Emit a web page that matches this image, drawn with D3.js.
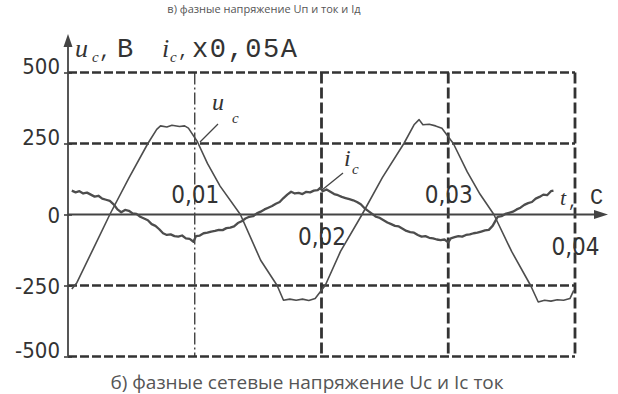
<!DOCTYPE html>
<html>
<head>
    <meta charset="utf-8">
    <title>Phase voltage Uc and current Ic</title>
    <script src="https://d3js.org/d3.v7.min.js"></script>
    <style>
        body { margin: 0; background: #fff; }
        svg { display: block; background: #fff; }
        .grid { stroke: #333; fill: none; }
        .curve { fill: none; stroke: #4d4d4d; stroke-linejoin: round; }
        .tick-label { font-family: 'Liberation Sans Narrow', 'DejaVu Sans Condensed', 'Liberation Sans', sans-serif; font-stretch: condensed; fill: #333; }
        .caption { font-family: 'Open Sans', 'Noto Sans', sans-serif; font-size: 19px; fill: #555; }
        .mono { font-family: 'Liberation Mono', 'DejaVu Sans Mono', monospace; fill: #333; }
        .ital { font-family: 'Liberation Serif', 'DejaVu Serif', serif; font-style: italic; fill: #333; }
    </style>
</head>
<body>
<svg width="618" height="394"></svg>
<script>
// ticks
const yTicks = [500, 250, 0, -250, -500];
const yTickLabels = ["500", "250", "0", "-250", "-500"];
const xTicks = [0.01, 0.02, 0.03, 0.04];
const xTickLabels = ["0,01", "0,02", "0,03", "0,04"];

// phase voltage u_c, V (time s)
const ucTime = [0.0003, 0.0007, 0.0020, 0.0033, 0.0048, 0.0063, 0.0070, 0.0073, 0.0078, 0.0082, 0.0088, 0.0092, 0.0095,
    0.0102, 0.0110, 0.0120, 0.0136, 0.0152, 0.0165, 0.0170, 0.0175, 0.0180, 0.0185, 0.0190, 0.0195,
    0.0203, 0.0215, 0.0232, 0.0248, 0.0265, 0.0273, 0.0277, 0.0280, 0.0285, 0.0290, 0.0295,
    0.0304, 0.0315, 0.0325, 0.0336, 0.0350, 0.0365, 0.0371, 0.0376, 0.0381, 0.0386, 0.0391, 0.0396, 0.0399];
const ucValue = [-262, -240, -120, 0, 128, 250, 300, 312, 308, 314, 310, 312, 304,
    257, 180, 100, 0, -161, -250, -302, -298, -302, -298, -303, -296,
    -249, -130, 0, 130, 250, 316, 334, 316, 318, 312, 304,
    250, 150, 72, 0, -130, -250, -308, -302, -305, -300, -302, -296, -267];

// phase current i_c, x0.05 A
const icTime = [0.0003, 0.0006, 0.0009, 0.0012, 0.0015, 0.0018, 0.0021, 0.0024, 0.0027, 0.0030, 0.0033, 0.0036, 0.0039,
    0.0042, 0.0045, 0.0048, 0.0051, 0.0054, 0.0057, 0.0060, 0.0063, 0.0066, 0.0069, 0.0072, 0.0075, 0.0078,
    0.0081, 0.0084, 0.0087, 0.0090, 0.0093, 0.0096, 0.0099, 0.0101, 0.0104, 0.0107, 0.0110, 0.0113, 0.0116,
    0.0119, 0.0122, 0.0125, 0.0128, 0.0131, 0.0134, 0.0137, 0.0140, 0.0143, 0.0146, 0.0149, 0.0152, 0.0155,
    0.0158, 0.0161, 0.0164, 0.0167, 0.0170, 0.0173, 0.0176, 0.0179, 0.0182, 0.0185, 0.0188, 0.0191, 0.0194,
    0.0197, 0.0199, 0.0201, 0.0204, 0.0207, 0.0210, 0.0213, 0.0216, 0.0219, 0.0222, 0.0225, 0.0228, 0.0231,
    0.0234, 0.0237, 0.0240, 0.0243, 0.0246, 0.0249, 0.0252, 0.0255, 0.0258, 0.0261, 0.0264, 0.0267, 0.0270,
    0.0273, 0.0276, 0.0279, 0.0282, 0.0285, 0.0288, 0.0291, 0.0294, 0.0297, 0.0300, 0.0302, 0.0305, 0.0308,
    0.0311, 0.0314, 0.0317, 0.0320, 0.0323, 0.0326, 0.0329, 0.0332, 0.0335, 0.0337, 0.0339, 0.0342, 0.0345,
    0.0348, 0.0351, 0.0354, 0.0357, 0.0360, 0.0363, 0.0366, 0.0369, 0.0372, 0.0375, 0.0378, 0.0381, 0.0383];
const icValue = [84, 78, 82, 74, 77, 70, 63, 66, 56, 52, 48, 36, 18,
    8, 16, 13, 4, 2, -8, -14, -20, -34, -40, -52, -66, -72,
    -70, -76, -78, -74, -84, -86, -96, -76, -74, -66, -64, -60, -58,
    -54, -55, -48, -46, -42, -30, -24, -14, -8, -6, 4, 10, 18,
    24, 30, 38, 44, 58, 70, 80, 74, 76, 72, 80, 78, 84,
    86, 94, 82, 88, 80, 72, 68, 62, 58, 54, 50, 44, 36,
    22, 12, 2, -8, -12, -20, -28, -34, -40, -42, -50, -58, -62,
    -64, -72, -78, -76, -82, -84, -88, -90, -88, -98, -84, -80, -76,
    -78, -72, -70, -66, -64, -60, -56, -54, -40, -24, -8, -6, 2,
    6, 10, 18, 24, 34, 40, 44, 56, 62, 70, 68, 82, 84];

const svg = d3.select("svg");

const x = d3.scaleLinear().domain([0, 0.04]).range([68, 575]);
const y = d3.scaleLinear().domain([-500, 500]).range([356.5, 72.5]);
const x0 = x(0), y0 = y(0);

// captions (the upper one belongs to the previous figure, mostly off the top in the scan)
svg.append("text").attr("class", "caption")
    .attr("x", 264).attr("y", 13).attr("text-anchor", "middle")
    .style("font-size", "11px")
    .text("в) фазные напряжение Uп и ток и Iд");
svg.append("text").attr("class", "caption")
    .attr("x", 307).attr("y", 389).attr("text-anchor", "middle")
    .text("б) фазные сетевые напряжение Uc и Ic ток");

// grid (dashed, like the scanned plot)
const grid = svg.append("g");
grid.selectAll("line.h")
    .data(yTicks.filter(d => d !== 0))
    .enter().append("line")
    .attr("class", "grid")
    .attr("x1", x0).attr("x2", x(0.04))
    .attr("y1", d => y(d)).attr("y2", d => y(d))
    .attr("stroke-width", 2.6)
    .attr("stroke-dasharray", "9,3");
grid.selectAll("line.v")
    .data(xTicks)
    .enter().append("line")
    .attr("class", "grid")
    .attr("x1", d => x(d)).attr("x2", d => x(d))
    .attr("y1", y(500)).attr("y2", y(-500))
    .attr("stroke-width", d => d === 0.01 ? 1.3 : 2.8)
    .attr("stroke-dasharray", d => d === 0.01 ? "12,3,2,3" : "11,4");

// axes
const yAxis = d3.axisLeft(y).tickValues(yTicks).tickSize(4).tickFormat((d, i) => yTickLabels[i]);
const yg = svg.append("g").attr("transform", `translate(${x0},0)`).call(yAxis);
yg.select(".domain").remove();
yg.selectAll(".tick line").attr("stroke", "#333").attr("stroke-width", 1.5).attr("x2", 4).attr("x1", -4);
yg.selectAll(".tick text")
    .attr("class", "tick-label")
    .attr("x", -8)
    .attr("font-size", 22)
    .attr("dy", d => (d === 0 || d === -250) ? "0.35em" : "0")
    .attr("y", d => (d === 0 || d === -250) ? 0 : 1);

const xAxis = d3.axisBottom(x).tickValues(xTicks).tickSize(0).tickFormat((d, i) => xTickLabels[i]);
const xg = svg.append("g").attr("transform", `translate(0,${y0})`).call(xAxis);
xg.select(".domain").remove();
xg.selectAll(".tick text")
    .attr("class", "tick-label")
    .attr("font-size", 24)
    .attr("dy", "0")
    .attr("y", (d, i) => i % 2 === 0 ? -12 : (d === 0.04 ? 40 : 30));

svg.append("line").attr("x1", x0).attr("x2", 600).attr("y1", y0).attr("y2", y0)
    .attr("stroke", "#444").attr("stroke-width", 1.8);
svg.append("path").attr("d", `M608,${y0} L594,${y0 - 4.5} L594,${y0 + 4.5} Z`).attr("fill", "#444");
svg.append("line").attr("x1", x0).attr("x2", x0).attr("y1", y(-500)).attr("y2", 42)
    .attr("stroke", "#444").attr("stroke-width", 1.8);
svg.append("path").attr("d", `M${x0},34 L${x0 - 4.5},47 L${x0 + 4.5},47 Z`).attr("fill", "#444");

// curves
const line = d3.line().x(d => x(d[0])).y(d => y(d[1]));
svg.append("path").attr("class", "curve")
    .attr("stroke-width", 1.6)
    .attr("d", line(d3.zip(ucTime, ucValue)));
svg.append("path").attr("class", "curve")
    .attr("stroke-width", 2.3)
    .attr("d", line(d3.zip(icTime, icValue)));

// axis title: u_c, B  i_c, x0,05A
svg.append("text").attr("class", "ital").attr("x", 75).attr("y", 57).attr("font-size", 26).text("u");
svg.append("text").attr("class", "ital").attr("x", 92).attr("y", 62).attr("font-size", 15).text("c");
svg.append("text").attr("class", "mono").attr("x", 99).attr("y", 57).attr("font-size", 20).text(",");
svg.append("text").attr("class", "mono").attr("x", 117).attr("y", 57).attr("font-size", 27).text("B");
svg.append("text").attr("class", "ital").attr("x", 162).attr("y", 57).attr("font-size", 26).text("i");
svg.append("text").attr("class", "ital").attr("x", 170).attr("y", 62).attr("font-size", 15).text("c");
svg.append("text").attr("class", "mono").attr("x", 178).attr("y", 57).attr("font-size", 18).text(",");
svg.append("text").attr("class", "mono").attr("x", 192).attr("y", 57).attr("font-size", 27)
    .attr("textLength", 105).attr("lengthAdjust", "spacing").text("x0,05A");

// curve labels with leader lines
svg.append("text").attr("class", "ital").attr("x", 212).attr("y", 110).attr("font-size", 24).text("u");
svg.append("text").attr("class", "ital").attr("x", 232).attr("y", 123).attr("font-size", 15).text("c");
svg.append("line").attr("x1", 218).attr("y1", 124).attr("x2", 200).attr("y2", 142)
    .attr("stroke", "#444").attr("stroke-width", 1.3);
svg.append("text").attr("class", "ital").attr("x", 344).attr("y", 166).attr("font-size", 24).text("i");
svg.append("text").attr("class", "ital").attr("x", 352).attr("y", 174).attr("font-size", 15).text("c");
svg.append("line").attr("x1", 343).attr("y1", 173).attr("x2", 322).attr("y2", 190)
    .attr("stroke", "#444").attr("stroke-width", 1.3);

// t, c
svg.append("text").attr("class", "ital").attr("x", 560).attr("y", 205).attr("font-size", 22).text("t");
svg.append("text").attr("class", "mono").attr("x", 568).attr("y", 207).attr("font-size", 16).text(",");
svg.append("text").attr("class", "mono").attr("x", 590).attr("y", 204).attr("font-size", 22).text("C");
</script>
</body>
</html>
